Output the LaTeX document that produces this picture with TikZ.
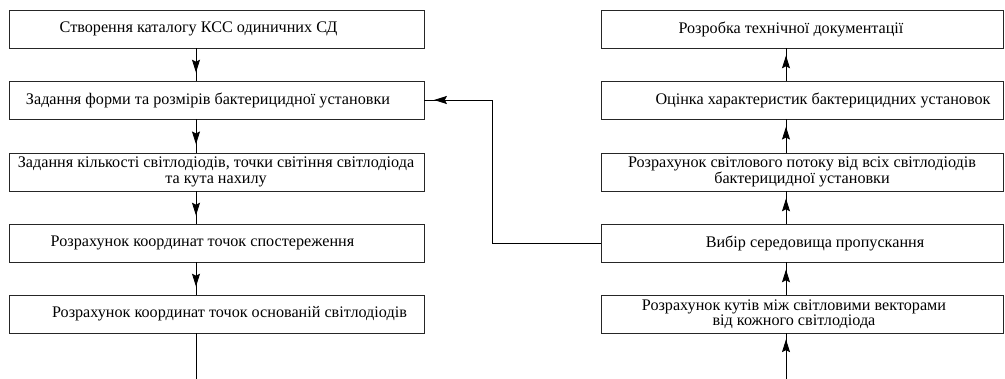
\documentclass[tikz,border=0pt]{standalone}
\usepackage{fontspec}
\setmainfont{Liberation Serif}
\usetikzlibrary{arrows.meta}
\usetikzlibrary{decorations.markings}
\tikzset{basic/.style={draw=black!85,minimum height=0.95cm,inner sep=0pt}}
\tikzset{lbox/.style={basic,minimum width=10.375cm}}
\tikzset{rbox/.style={basic,minimum width=10.05cm}}
\tikzset{txt/.style={align=center,inner sep=0pt,font=\rmfamily\fontsize{11.5}{11}\selectfont}}
\tikzset{midarrow/.style={postaction={decorate},
  decoration={markings,mark=at position #1 with {\arrow{Stealth[length=0.32cm,width=0.2cm,inset=0.05cm]}}}}}

\begin{document}
\begin{tikzpicture}[x=0.025cm,y=-0.025cm,line width=0.6pt]
    \useasboundingbox (0,0) rectangle (1005,379);
    \coordinate (ax) at (196,0);
    \coordinate (ar) at (786,0);
    \coordinate (fb) at (492,0);

    \foreach \y [count=\i] in {29,100,172,243,314}{%
          \node[lbox] (l\i) at (216.5,\y) {};
          \node[rbox] (r\i) at (802,\y) {};
		}

    % left column
    \node[txt] (tl1) at (198.5,29) {Створення каталогу КСС одиничних СД};
    \node[txt] (tl2) at (208,100) {Задання форми та розмірів бактерицидної установки};
    \node[txt] (tl3) at (216,172) {Задання кількості світлодіодів, точки світіння світлодіода\\та кута нахилу};
    \node[txt] (tl4) at (202.5,243) {Розрахунок координат точок спостереження};
    \node[txt] (tl5) at (229.5,314) {Розрахунок координат точок основаній світлодіодів};

    % right column
    \node[txt] (tr1) at (791,29) {Розробка технічної документації};
    \node[txt] (tr2) at (823,100) {Оцінка характеристик бактерицидних установок};
    \node[txt] (tr3) at (802,172) {Розрахунок світлового потоку від всіх світлодіодів\\бактерицидної установки};
    \node[txt] (tr4) at (815,243) {Вибір середовища пропускання};
    \node[txt] (tr5) at (794,314) {Розрахунок кутів між світловими векторами\\від кожного світлодіода};

    \foreach \i/\j in {1/2,2/3,3/4,4/5}{%
          \draw[midarrow=0.75] (l\i.south -| ax) -- (l\j.north -| ax);
          \draw[midarrow=0.78] (r\j.north -| ar) -- (r\i.south -| ar);
		}

    \coordinate (lend) at (196,379);
    \coordinate (rstart) at (786,379);
    \draw (l5.south -| ax) -- (lend);
    \draw[midarrow=0.87] (rstart) -- (r5.south -| ar);
    \draw[midarrow=0.97] (r4.west) -| (fb |- l2.east) -- (l2.east);
\end{tikzpicture}
\end{document}
